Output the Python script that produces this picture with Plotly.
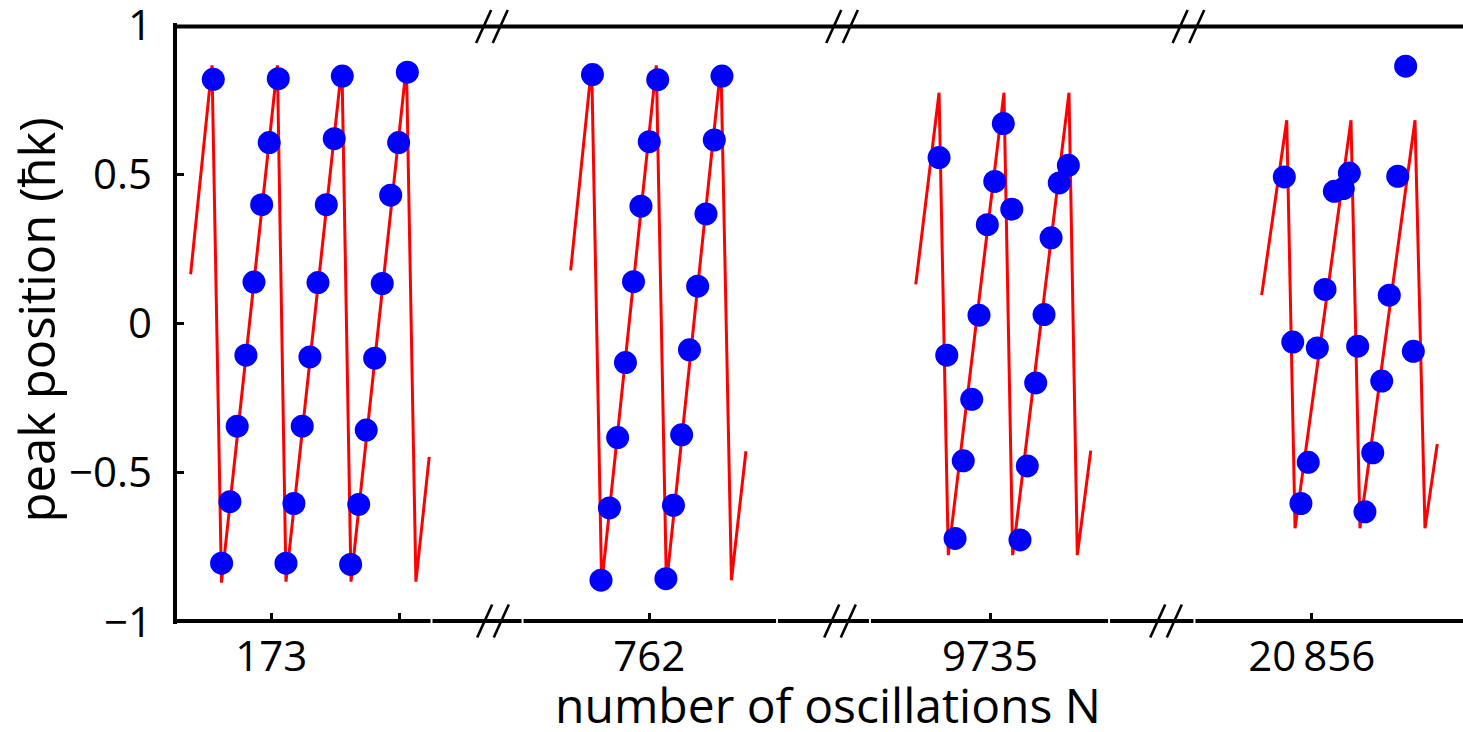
import plotly.graph_objects as go

# ---------------- data ----------------
# tick N value of each panel
panel_N = [173, 762, 9735, 20856]

# measured peak positions (blue dots)
p1_dot_N = [172.547, 172.612, 172.677, 172.734, 172.802, 172.865, 172.925, 172.984, 173.055,
            173.115, 173.177, 173.242, 173.302, 173.365, 173.430, 173.492, 173.555, 173.620,
            173.683, 173.742, 173.808, 173.867, 173.933, 173.995, 174.063]
p1_dot_k = [0.818, -0.803, -0.597, -0.344, -0.106, 0.139, 0.398, 0.606, 0.820,
            -0.803, -0.603, -0.344, -0.112, 0.137, 0.398, 0.619, 0.829, -0.807,
            -0.606, -0.357, -0.116, 0.134, 0.430, 0.606, 0.842]

p2_dot_N = [761.556, 761.623, 761.689, 761.753, 761.814, 761.877, 761.935, 762.000, 762.066,
            762.130, 762.189, 762.253, 762.314, 762.378, 762.443, 762.508, 762.568]
p2_dot_k = [0.834, -0.860, -0.618, -0.382, -0.131, 0.140, 0.393, 0.609, 0.817,
            -0.855, -0.609, -0.373, -0.088, 0.125, 0.367, 0.615, 0.829]

p3_dot_N = [9734.602, 9734.662, 9734.727, 9734.791, 9734.857, 9734.914, 9734.979, 9735.037,
            9735.104, 9735.170, 9735.234, 9735.291, 9735.357, 9735.422, 9735.477, 9735.541,
            9735.612]
p3_dot_k = [0.556, -0.106, -0.720, -0.460, -0.254, 0.028, 0.331, 0.476,
            0.670, 0.383, -0.725, -0.477, -0.199, 0.030, 0.287, 0.471, 0.530]

p4_dot_N = [20855.786, 20855.852, 20855.916, 20855.973, 20856.044, 20856.104, 20856.177,
            20856.247, 20856.294, 20856.359, 20856.416, 20856.477, 20856.547, 20856.606,
            20856.672, 20856.734, 20856.794]
p4_dot_k = [0.491, -0.062, -0.603, -0.465, -0.082, 0.114, 0.443,
            0.452, 0.504, -0.076, -0.631, -0.433, -0.193, 0.095,
            0.493, 0.862, -0.093]

# theory curve (red sawtooth), vertices
p1_line_N = [172.370, 172.537, 172.611, 173.048, 173.115, 173.552, 173.623, 174.056, 174.130, 174.234]
p1_line_k = [0.165, 0.865, -0.868, 0.865, -0.865, 0.865, -0.865, 0.865, -0.865, -0.447]

p2_line_N = [761.386, 761.550, 761.628, 762.055, 762.134, 762.560, 762.642, 762.755]
p2_line_k = [0.178, 0.865, -0.875, 0.865, -0.875, 0.865, -0.860, -0.428]

p3_line_N = [9734.420, 9734.602, 9734.674, 9735.109, 9735.177, 9735.617, 9735.682, 9735.787]
p3_line_k = [0.131, 0.773, -0.776, 0.773, -0.776, 0.773, -0.776, -0.426]

p4_line_N = [20855.609, 20855.805, 20855.870, 20856.307, 20856.377, 20856.807, 20856.885, 20856.981]
p4_line_k = [0.095, 0.681, -0.686, 0.681, -0.686, 0.681, -0.686, -0.404]

tick_labels = ["173", "762", "9735", "20\u2009856"]
y_ticks = [-1, -0.5, 0, 0.5, 1]
y_tick_labels = ["\u22121", "\u22120.5", "0", "0.5", "1"]
x_title = "number of oscillations N"
y_title = "peak position (\u0127k)"

# ---------------- layout of the broken axis ----------------
# position of each panel's tick on a continuous display axis (units of oscillations)
panel_pos = [0.0, 2.953, 5.615, 8.128]
x_range = [-0.752, 9.310]
extra_tick = 1.0                      # unlabeled tick in first panel
bottom_gaps = [1.252, 1.963, 3.951, 4.677, 6.545, 7.212]
top_breaks = [1.724, 4.459, 7.165]
bottom_breaks = [1.732, 4.443, 6.990]

FONT = "Open Sans"
RED = "#ff0000"
BLUE = "#0000ff"

def disp(Ns, i):
    return [n - panel_N[i] + panel_pos[i] for n in Ns]

fig = go.Figure()
lines = [(p1_line_N, p1_line_k), (p2_line_N, p2_line_k), (p3_line_N, p3_line_k), (p4_line_N, p4_line_k)]
dots = [(p1_dot_N, p1_dot_k), (p2_dot_N, p2_dot_k), (p3_dot_N, p3_dot_k), (p4_dot_N, p4_dot_k)]
for i, (xs, ys) in enumerate(lines):
    fig.add_trace(go.Scatter(x=disp(xs, i), y=ys, mode="lines",
                             line=dict(color=RED, width=3), hoverinfo="skip"))
for i, (xs, ys) in enumerate(dots):
    fig.add_trace(go.Scatter(x=disp(xs, i), y=ys, mode="markers",
                             marker=dict(color=BLUE, size=23, line=dict(width=0))))

W, H = 1463, 732
ML, MR, MT, MB = 175, 0, 25, 110
plot_h = H - MT - MB
plot_w = W - ML - MR

shapes = []
# left axis line
shapes.append(dict(type="line", xref="paper", yref="paper", x0=0, x1=0,
                   y0=-2 / plot_h, y1=1 + 2 / plot_h, line=dict(color="black", width=4)))
# top axis line
shapes.append(dict(type="line", xref="paper", yref="paper", x0=-2 / plot_w, x1=1,
                   y0=1 - 1.5 / plot_h, y1=1 - 1.5 / plot_h, line=dict(color="black", width=4)))
# bottom axis line in segments with tiny gaps
gap_half = 1.0 / 128
edges = [x_range[0] - 0.05] + bottom_gaps + [x_range[1] + 0.05]
for a, b in zip(edges[:-1], edges[1:]):
    x0 = a + (gap_half if a != edges[0] else 0)
    x1 = b - (gap_half if b != edges[-1] else 0)
    shapes.append(dict(type="line", xref="x", yref="paper", x0=x0, x1=x1,
                       y0=1 / plot_h, y1=1 / plot_h, line=dict(color="black", width=4)))
# break marks //
def brk(xc, ypaper):
    out = []
    for dx in (-8.3, 8.3):
        out.append(dict(type="line", xref="x", yref="paper",
                        xsizemode="pixel", xanchor=xc, x0=dx - 7.5, x1=dx + 7.5,
                        ysizemode="pixel", yanchor=ypaper, y0=-16.5, y1=16.5,
                        line=dict(color="black", width=2.6)))
    return out
for xc in top_breaks:
    shapes += brk(xc, 1 - 1.5 / plot_h)
for xc in bottom_breaks:
    shapes += brk(xc, 1 / plot_h)

tickvals = [panel_pos[0], extra_tick, panel_pos[1], panel_pos[2], panel_pos[3]]
ticktext = [tick_labels[0], "", tick_labels[1], tick_labels[2], tick_labels[3]]

annotations = [
    dict(text=x_title, xref="paper", yref="paper",
         x=(828 - ML) / plot_w, y=-(705 - (H - MB)) / plot_h,
         xanchor="center", yanchor="middle", showarrow=False,
         font=dict(family=FONT, size=48, color="black")),
    dict(text=y_title, xref="paper", yref="paper",
         x=-(ML - 36) / plot_w, y=0.505, textangle=-90,
         xanchor="center", yanchor="middle", showarrow=False,
         font=dict(family=FONT, size=49, color="black")),
]

fig.update_layout(
    width=W, height=H,
    margin=dict(l=ML, r=MR, t=MT, b=MB, pad=0, autoexpand=False),
    plot_bgcolor="white", paper_bgcolor="white",
    showlegend=False,
    shapes=shapes,
    annotations=annotations,
    font=dict(family=FONT, color="black"),
    xaxis=dict(range=x_range, showgrid=False, zeroline=False, showline=False,
               automargin=False,
               ticks="inside", ticklen=9, tickwidth=3, tickcolor="black",
               tickvals=tickvals, ticktext=ticktext,
               tickfont=dict(family=FONT, size=42, color="black"),
               ticklabelstandoff=6, ticklabeloverflow="allow"),
    yaxis=dict(range=[-1, 1], showgrid=False, zeroline=False, showline=False,
               automargin=False,
               ticks="inside", ticklen=9, tickwidth=3, tickcolor="black",
               tickvals=y_ticks, ticktext=y_tick_labels,
               tickfont=dict(family=FONT, size=42, color="black"),
               ticklabelstandoff=22, ticklabeloverflow="allow"),
)

fig.write_html("out.html", config={"displayModeBar": False},
               post_script="document.body.style.margin='0px';")
